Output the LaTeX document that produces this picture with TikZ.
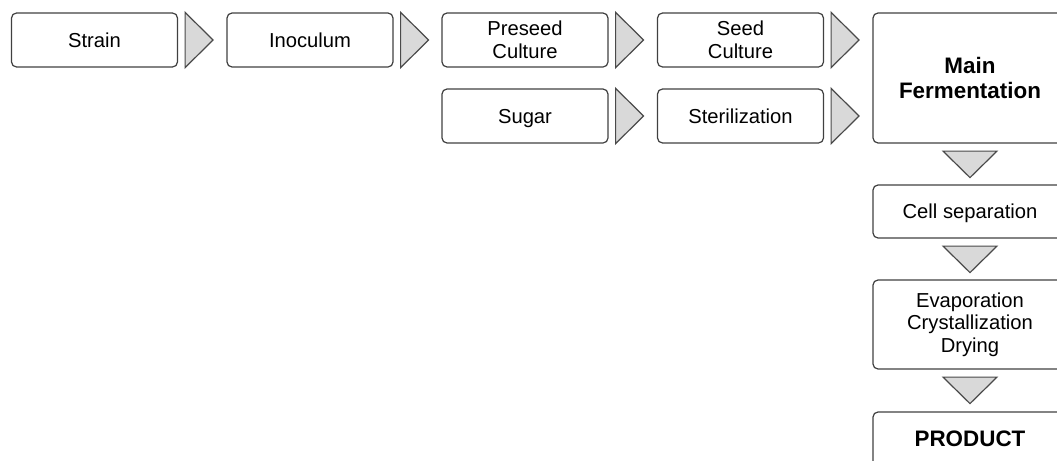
\documentclass[tikz,border=0pt]{standalone}
\usepackage{fontspec}
\setmainfont{Liberation Sans}
\usetikzlibrary{calc}
\definecolor{boxline}{HTML}{404040}
\definecolor{triline}{HTML}{4A4A4A}
\definecolor{trifill}{HTML}{D9D9D9}

\begin{document}
\begin{tikzpicture}[x=0.5pt,y=-0.5pt,
    stage/.style={draw=boxline,line width=0.6pt,rounded corners=2.5pt,
        minimum width=83pt,minimum height=27pt,inner sep=0pt,align=center,
        font=\fontsize{10.1}{11.3}\selectfont},
    flat/.style={text depth=0pt},
    bigstage/.style={stage,minimum width=97pt},
    boldstage/.style={bigstage,font=\fontsize{11.2}{12.5}\selectfont\bfseries},
    rtri/.style={draw=triline,fill=trifill,line width=0.6pt,
        to path={($(\tikztostart.north east)+(7,0)$) -- ($(\tikztostart.east)+(35,0)$)
            -- ($(\tikztostart.south east)+(7,0)$) -- cycle}},
    dtri/.style={draw=triline,fill=trifill,line width=0.6pt,
        to path={($(\tikztostart.south)+(-27,7.5)$) -- ($(\tikztostart.south)+(27,7.5)$)
            -- ($(\tikztostart.south)+(0,34)$) -- cycle}}]
            \clip(0,0)rectangle(1057,461);
            \node[stage](strain)at(94.5, 40){Strain};
            \node[stage](inoc)at(310, 40){Inoculum};
            \node[stage](preseed)at(525, 40){Preseed\\Culture};
            \node[stage](seed)at(740.5, 40){Seed\\Culture};
            \node[stage,flat](sugar)at(525, 116){Sugar};
            \node[stage](steril)at(740.5, 116){Sterilization};
            \node[boldstage,minimum height=65pt](main)at(970, 78){Main\\Fermentation};
            \node[bigstage,flat,minimum height=26.5pt](cellsep)at(970, 211.5){Cell separation};
            \node[bigstage,minimum height=44.5pt](evap)at(970, 324.5){Evaporation\\Crystallization\\Drying};
            \node[boldstage](product)at(970, 439){PRODUCT};
            \path(strain) edge[rtri] (inoc)
            (inoc) edge[rtri] (preseed)
            (preseed) edge[rtri] (seed)
            (seed) edge[rtri] (main)
            (sugar) edge[rtri] (steril)
            (steril) edge[rtri] (main)
            (main) edge[dtri] (cellsep)
            (cellsep) edge[dtri] (evap)
            (evap) edge[dtri] (product);
        \end{tikzpicture}
\end{document}
